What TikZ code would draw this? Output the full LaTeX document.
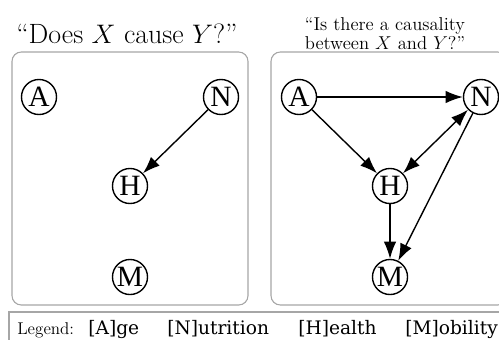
\documentclass[tikz,border=0pt]{standalone}
\usepackage{fontspec}
\newfontfamily\varfont{Liberation Serif}
\newfontfamily\legendfont{DejaVu Serif}
\usetikzlibrary{arrows.meta}
\begin{document}
\begin{tikzpicture}[x=0.645pt,y=-0.645pt,
    var/.style={draw,circle,line width=0.9pt,minimum size=22.6pt,inner sep=0pt,
      font=\varfont\fontsize{19}{19}\selectfont},
    frame/.style={draw=black!35,line width=0.7pt,rounded corners=6pt},
    every edge/.style={draw,line width=0.9pt},
    >={Latex[length=11pt,width=8pt]}]
  \useasboundingbox (0,0) rectangle (499,339);
  \clip (0,0) rectangle (499,339);
  % panels
  \draw[frame] (12,52) rectangle (248,305);
  \draw[frame] (271,52) rectangle (507,305);
  \draw[draw=black!35,line width=0.7pt] (520,312) -| (9,350);
  % titles
  \node[anchor=base] (T1) at (127,43) {\fontsize{18}{21}\selectfont ``Does $X$ cause $Y$?''};
  \node[anchor=base,align=center,font=\fontsize{12}{10}\selectfont] (T2) at (385,49)
    {``Is there a causality\\ between $X$ and $Y$?''};
  % left graph
  \node[var] (A) at (39,97) {A};
  \node[var] (N) at (221,97) {N};
  \node[var] (H) at (130,186) {H};
  \node[var] (M) at (130,277) {M};
  \path[->] (N) edge (H);
  % right graph
  \node[var] (A2) at (299,97) {A};
  \node[var] (N2) at (481,97) {N};
  \node[var] (H2) at (390,186) {H};
  \node[var] (M2) at (390,277) {M};
  \path[->] (A2) edge (N2);
  \path[->] (A2) edge (H2);
  \path[<->] (H2) edge (N2);
  \path[->] (H2) edge (M2);
  \path[->] (N2) edge (M2);
  % legend
  \node[anchor=base west,inner sep=0pt,font=\fontsize{11}{11}\selectfont] (L) at (17,334) {Legend:};
  \node[anchor=base west,inner sep=0pt,font=\legendfont\fontsize{12}{12}\selectfont] (LA) at (88,334) {[A]ge};
  \node[anchor=base west,inner sep=0pt,font=\legendfont\fontsize{12}{12}\selectfont] (LN) at (167,334) {[N]utrition};
  \node[anchor=base west,inner sep=0pt,font=\legendfont\fontsize{12}{12}\selectfont] (LH) at (298,334) {[H]ealth};
  \node[anchor=base west,inner sep=0pt,font=\legendfont\fontsize{12}{12}\selectfont] (LM) at (405,334) {[M]obility};
\end{tikzpicture}
\end{document}
